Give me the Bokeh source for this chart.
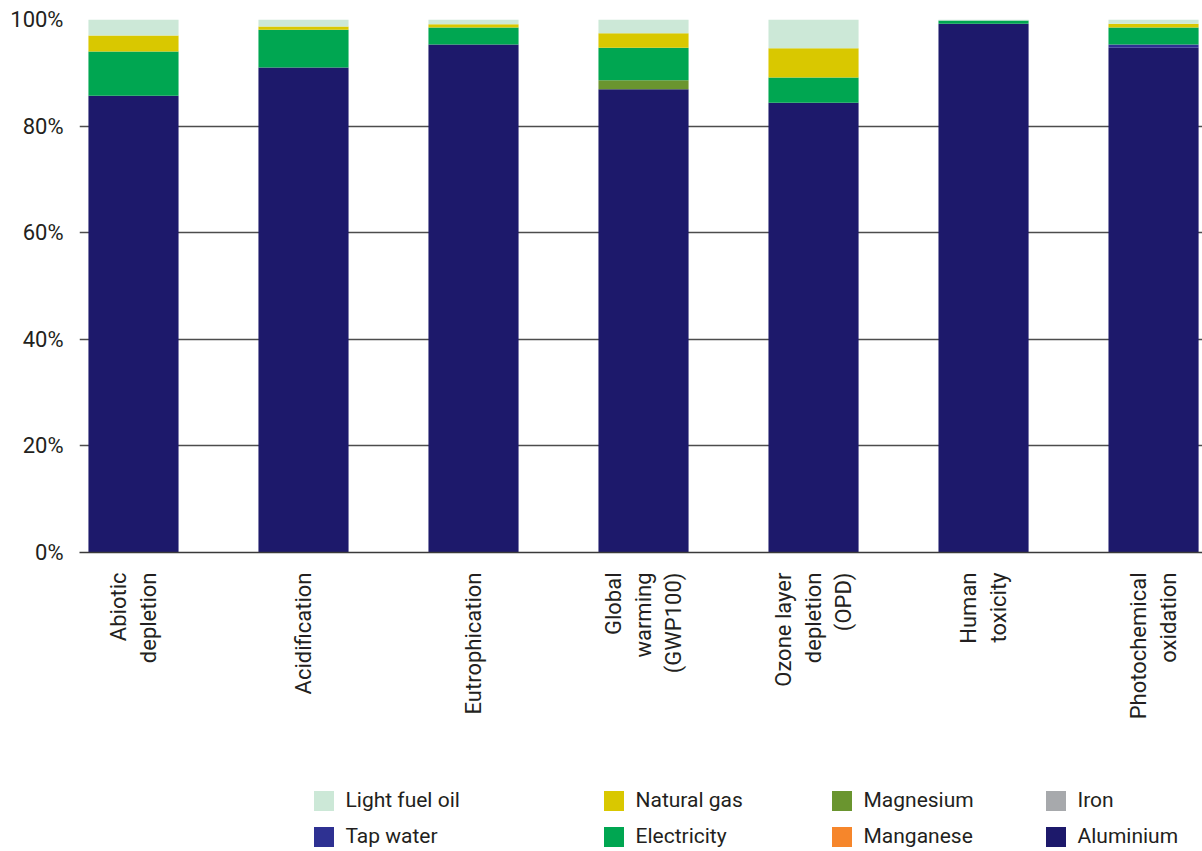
from bokeh.plotting import figure
from bokeh.layouts import column
from bokeh.models import (ColumnDataSource, Range1d, FixedTicker, Legend, LegendItem,
                          PrintfTickFormatter)
from bokeh.embed import file_html
from bokeh.resources import INLINE

# Impact categories (tick labels, multi-line)
categories = [
    "Abiotic\ndepletion",
    "Acidification",
    "Eutrophication",
    "Global\nwarming\n(GWP100)",
    "Ozone layer\ndepletion\n(OPD)",
    "Human\ntoxicity",
    "Photochemical\noxidation",
]

# Share of each contributor per category (%), stacked bottom to top
aluminium      = [85.7, 91.0, 95.3, 86.9, 84.4, 99.2, 94.7]
tap_water      = [0.0, 0.0, 0.0, 0.0, 0.0, 0.0, 0.6]
iron           = [0.0, 0.0, 0.0, 0.0, 0.0, 0.0, 0.0]
manganese      = [0.0, 0.0, 0.0, 0.0, 0.0, 0.0, 0.0]
magnesium      = [0.0, 0.0, 0.0, 1.7, 0.0, 0.0, 0.0]
electricity    = [8.3, 7.1, 3.2, 6.1, 4.7, 0.6, 3.2]
natural_gas    = [3.0, 0.6, 0.6, 2.7, 5.5, 0.0, 0.7]
light_fuel_oil = [3.0, 1.3, 0.9, 2.6, 5.4, 0.2, 0.8]

series_names = ["Aluminium", "Tap water", "Iron", "Manganese", "Magnesium",
                "Electricity", "Natural gas", "Light fuel oil"]
series_values = [aluminium, tap_water, iron, manganese, magnesium,
                 electricity, natural_gas, light_fuel_oil]
series_colors = ["#1d196b", "#2e3192", "#a7a9ac", "#f6862b", "#6a952f",
                 "#00a651", "#d9c800", "#cce8d7"]

# Legend columns (top entry, bottom entry)
legend_columns = [
    ["Light fuel oil", "Tap water"],
    ["Natural gas", "Electricity"],
    ["Magnesium", "Manganese"],
    ["Iron", "Aluminium"],
]

y_ticks = [0, 20, 40, 60, 80, 100]

FONT = "Roboto"
TEXT = "#231f20"

data = {"x": list(range(len(categories)))}
for name, vals in zip(series_names, series_values):
    data[name] = vals
source = ColumnDataSource(data)

# ---- main stacked bar chart ----
p = figure(width=1202, height=770, output_backend="svg", toolbar_location=None,
           x_range=Range1d(-0.3176, 6.288), y_range=Range1d(0, 100),
           min_border_left=79, min_border_right=0, min_border_top=19,
           min_border_bottom=218)
p.outline_line_color = None
p.background_fill_color = "white"

p.vbar_stack(series_names, x="x", width=0.53, source=source,
             color=series_colors, line_color=None)

# y axis: percentage labels, no line/ticks
p.yaxis.ticker = FixedTicker(ticks=y_ticks)
p.yaxis.formatter = PrintfTickFormatter(format="%d%%")
p.yaxis.axis_line_color = None
p.yaxis.major_tick_line_color = None
p.yaxis.minor_tick_line_color = None
p.yaxis.major_label_standoff = 10
p.yaxis.major_label_text_font = FONT
p.yaxis.major_label_text_font_size = "22px"
p.yaxis.major_label_text_color = TEXT

# x axis: rotated category labels
p.xaxis.ticker = FixedTicker(ticks=list(range(len(categories))))
p.xaxis.major_label_overrides = {i: c for i, c in enumerate(categories)}
p.xaxis.major_label_orientation = 1.5707963
p.xaxis.axis_line_color = "#3a3a3a"
p.xaxis.axis_line_width = 1.5
p.xaxis.major_tick_line_color = None
p.xaxis.minor_tick_line_color = None
p.xaxis.major_label_standoff = 14
p.xaxis.major_label_text_font = FONT
p.xaxis.major_label_text_font_size = "22px"
p.xaxis.major_label_text_color = TEXT

p.xgrid.grid_line_color = None
p.ygrid.ticker = FixedTicker(ticks=y_ticks)
p.ygrid.grid_line_color = "#4d4d4d"
p.ygrid.grid_line_width = 1.5
p.ygrid.level = "underlay"

# ---- legend strip below the chart ----
lf = figure(width=1202, height=81, output_backend="svg", toolbar_location=None,
            x_range=Range1d(0, 1), y_range=Range1d(0, 1),
            min_border=0, x_axis_type=None, y_axis_type=None)
lf.outline_line_color = None
lf.xgrid.visible = False
lf.ygrid.visible = False
key_renderers = lf.vbar_stack(series_names, x="x", width=0.53, source=source,
                              color=series_colors, line_color=None)
for r in key_renderers:
    r.visible = False
rmap = dict(zip(series_names, key_renderers))

# column offsets relative to the (aligned) frame left edge
legend_x = [231.5, 521.5, 749.5, 963.5]
for names, lx in zip(legend_columns, legend_x):
    leg = Legend(items=[LegendItem(label=n, renderers=[rmap[n]]) for n in names],
                 location=(lx, 2.5), orientation="vertical", click_policy="none",
                 glyph_width=25, glyph_height=25, label_height=25,
                 label_standoff=10, spacing=11, padding=0, margin=0,
                 border_line_color=None, background_fill_alpha=0,
                 inactive_fill_alpha=0,
                 label_text_font=FONT, label_text_font_size="21px",
                 label_text_color=TEXT)
    lf.add_layout(leg, "center")

open("out.html", "w").write(file_html(column(p, lf, spacing=0), INLINE))
